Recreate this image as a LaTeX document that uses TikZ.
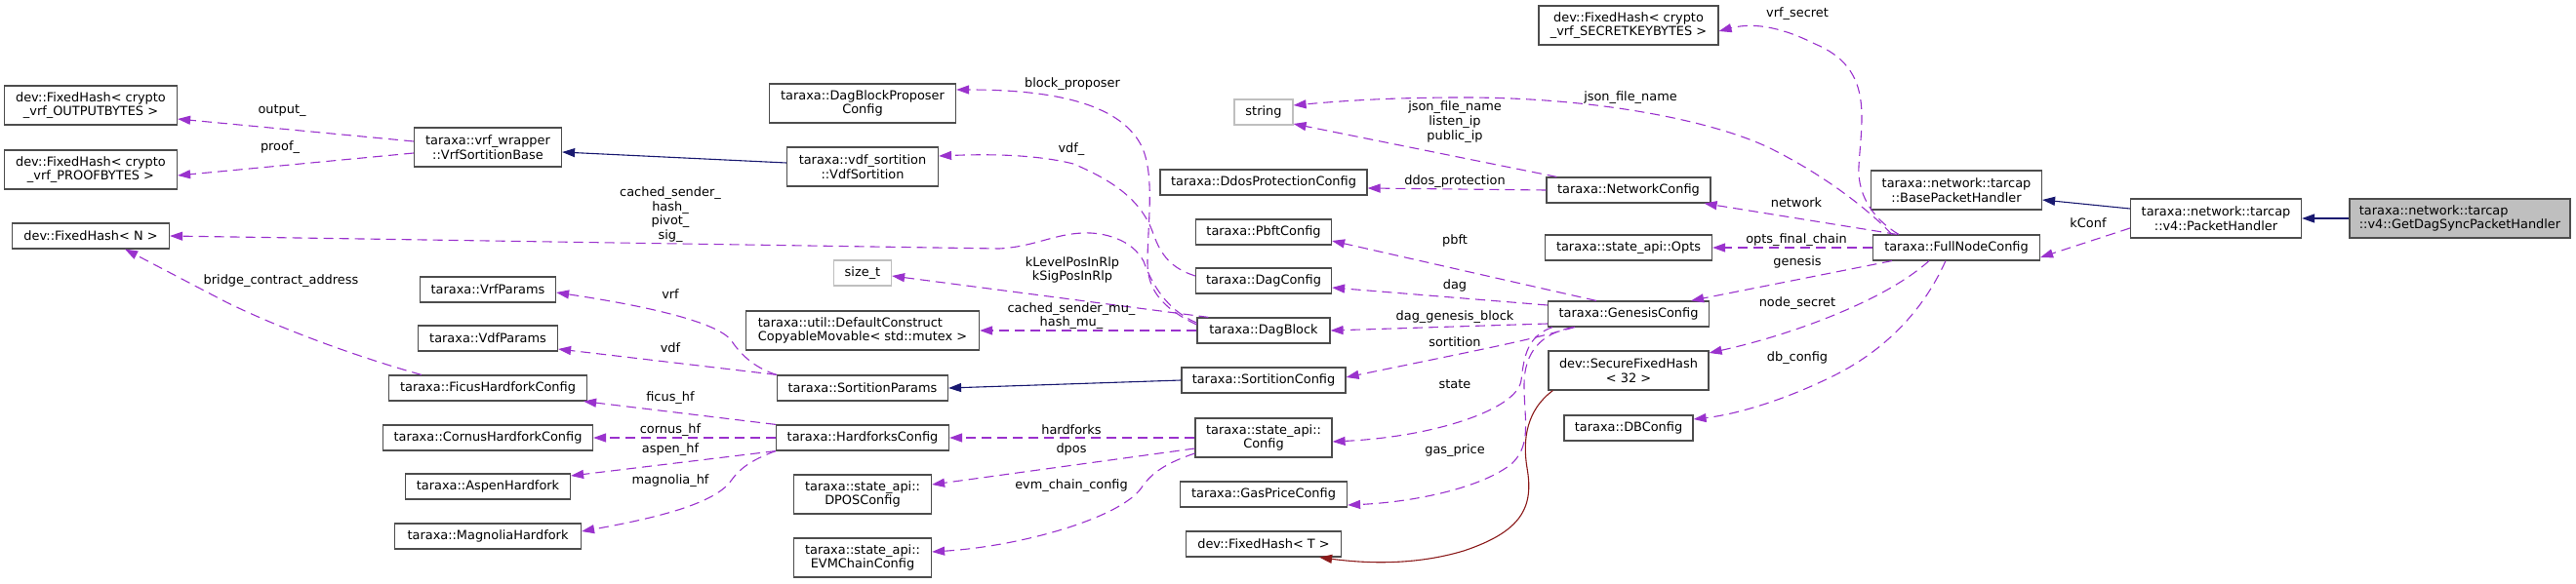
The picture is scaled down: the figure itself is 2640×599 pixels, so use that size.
\documentclass[tikz,border=0pt]{standalone}
\usepackage{fontspec}
\setmainfont{DejaVu Sans}
\usetikzlibrary{arrows.meta}
\definecolor{memberPurple}{HTML}{9A32CD}
\definecolor{inheritBlue}{HTML}{191970}
\definecolor{tmplRed}{HTML}{8B1A1A}
\definecolor{extGray}{HTML}{BFBFBF}
\definecolor{boxGray}{HTML}{4D4D4D}

\begin{document}
\begin{tikzpicture}[
    x=1pt, y=-1pt,
    font=\fontsize{12.9}{14.7}\selectfont,
    cls/.style={rectangle, draw=boxGray, line width=1.2pt, fill=white, inner sep=0pt, minimum height=26, align=center},
    cls2/.style={cls, minimum height=40},
    ext/.style={cls, draw=extGray},
    focus/.style={cls2, fill=extGray, align=left},
    member/.style={draw=memberPurple, line width=1.1pt, dash pattern=on 10pt off 6pt, -{Triangle[length=13pt, width=9pt]}, memberPurple},
    inherit/.style={draw=inheritBlue, line width=1.1pt, -{Triangle[length=13pt, width=9pt]}, inheritBlue},
    tmpl/.style={draw=tmplRed, line width=1.1pt, -{Triangle[length=13pt, width=9pt]}, tmplRed},
    lbl/.style={inner sep=0pt, align=center, text=black},
]
\useasboundingbox (0,0) rectangle (2640,599);

% Left column
\node[cls2, minimum width=177] (fhOut) at (93,108) {dev::FixedHash< crypto\\\_vrf\_OUTPUTBYTES >};
\node[cls2, minimum width=177] (fhProof) at (93,174) {dev::FixedHash< crypto\\\_vrf\_PROOFBYTES >};
\node[cls, minimum width=161] (fhN) at (93,242) {dev::FixedHash< N >};

% Second column
\node[cls2, minimum width=151] (vrfBase) at (500,151) {taraxa::vrf\_wrapper\\::VrfSortitionBase};
\node[cls, minimum width=139] (vrfParams) at (500,297) {taraxa::VrfParams};
\node[cls, minimum width=143] (vdfParams) at (500,347) {taraxa::VdfParams};
\node[cls, minimum width=203] (ficus) at (500,398) {taraxa::FicusHardforkConfig};
\node[cls, minimum width=215] (cornus) at (500,449) {taraxa::CornusHardforkConfig};
\node[cls, minimum width=169] (aspen) at (500,499) {taraxa::AspenHardfork};
\node[cls, minimum width=191] (magnolia) at (500,550) {taraxa::MagnoliaHardfork};

% Third column
\node[cls2, minimum width=191] (proposer) at (884,106) {taraxa::DagBlockProposer\\Config};
\node[cls2, minimum width=155] (vdfSort) at (884,171) {taraxa::vdf\_sortition\\::VdfSortition};
\node[ext, minimum width=59] (sizeT) at (884,280) {size\_t};
\node[cls2, minimum width=239, align=left] (mutex) at (884,339) {taraxa::util::DefaultConstruct\\CopyableMovable< std::mutex >};
\node[cls, minimum width=175] (sortParams) at (884,398) {taraxa::SortitionParams};
\node[cls, minimum width=177] (hardforks) at (884,449) {taraxa::HardforksConfig};
\node[cls2, minimum width=141] (dpos) at (884,507) {taraxa::state\_api::\\DPOSConfig};
\node[cls2, minimum width=141] (evm) at (884,572) {taraxa::state\_api::\\EVMChainConfig};

% Fourth column
\node[ext, minimum width=60] (string) at (1295,115) {string};
\node[cls, minimum width=212] (ddos) at (1295,187) {taraxa::DdosProtectionConfig};
\node[cls, minimum width=139] (pbft) at (1295,238) {taraxa::PbftConfig};
\node[cls, minimum width=139] (dagConfig) at (1295,288) {taraxa::DagConfig};
\node[cls, minimum width=136] (dagBlock) at (1295,339) {taraxa::DagBlock};
\node[cls, minimum width=168] (sortConfig) at (1295,390) {taraxa::SortitionConfig};
\node[cls2, minimum width=140] (stateConfig) at (1295,449) {taraxa::state\_api::\\Config};
\node[cls, minimum width=171] (gasPrice) at (1295,507) {taraxa::GasPriceConfig};
\node[cls, minimum width=159] (fhT) at (1295,558) {dev::FixedHash< T >};

% Fifth column
\node[cls2, minimum width=184] (fhSecret) at (1669,26) {dev::FixedHash< crypto\\\_vrf\_SECRETKEYBYTES >};
\node[cls, minimum width=168] (network) at (1669,195) {taraxa::NetworkConfig};
\node[cls, minimum width=171] (opts) at (1669,254) {taraxa::state\_api::Opts};
\node[cls, minimum width=165] (genesis) at (1669,322) {taraxa::GenesisConfig};
\node[cls2, minimum width=164] (secureHash) at (1669,380) {dev::SecureFixedHash\\< 32 >};
\node[cls, minimum width=132] (dbConfig) at (1669,439) {taraxa::DBConfig};

% Right side
\node[cls2, minimum width=175] (basePacket) at (2005,195) {taraxa::network::tarcap\\::BasePacketHandler};
\node[cls, minimum width=171] (fullNode) at (2005,254) {taraxa::FullNodeConfig};
\node[cls2, minimum width=175] (packet) at (2271,224) {taraxa::network::tarcap\\::v4::PacketHandler};
\node[focus, minimum width=226] (getDag) at (2521,224) {taraxa::network::tarcap\\::v4::GetDagSyncPacketHandler};

% Inheritance
\draw[inherit] (getDag.west) -- (packet.east);
\draw[inherit] ([yshift=10pt]packet.west) -- ([yshift=-10pt]basePacket.east);
\draw[inherit] ([yshift=4pt]vdfSort.west) -- ([yshift=-5pt]vrfBase.east);
\draw[inherit] (sortConfig.west) -- (sortParams.east);

% Template instance
\draw[tmpl] ([xshift=5pt]secureHash.south west) .. controls (1565,420) and (1560,450) .. (1565,480)
  .. controls (1572,520) and (1560,545) .. (1500,565) .. controls (1450,580) and (1400,578) .. ([xshift=-23pt]fhT.south east);

% Members of FullNodeConfig
\draw[member] ([yshift=-10pt]packet.west) -- ([yshift=-10pt]fullNode.east) node[lbl] at (2140,229) {kConf};
\draw[member] ([xshift=27pt]fullNode.north west) .. controls (1925,228) and (1903,205) .. (1905,170)
  .. controls (1908,120) and (1920,70) .. (1860,45) .. controls (1830,30) and (1800,22) .. ([yshift=-6pt]fhSecret.east)
  node[lbl] at (1842,14) {vrf\_secret};
\draw[member] ([xshift=20pt]fullNode.north west) .. controls (1915,215) and (1870,180) .. (1816,153)
  .. controls (1760,125) and (1640,100) .. (1500,100) .. controls (1420,100) and (1370,104) .. ([yshift=7pt]string.east)
  node[lbl] at (1671,100) {json\_file\_name};
\draw[member] ([xshift=25pt]fullNode.north west) -- ([xshift=-7pt]network.south east) node[lbl] at (1841,208) {network};
\draw[member] (fullNode.west) -- (opts.east) node[lbl] at (1841,246) {opts\_final\_chain};
\draw[member] ([xshift=20pt]fullNode.south west) -- ([xshift=-19pt]genesis.north east) node[lbl] at (1842,269) {genesis};
\draw[member] ([xshift=58pt]fullNode.south west) .. controls (1930,310) and (1830,345) .. ([yshift=18pt]secureHash.east)
  node[lbl] at (1842,311) {node\_secret};
\draw[member] ([xshift=75pt]fullNode.south west) .. controls (1975,310) and (1940,355) .. (1880,385)
  .. controls (1830,410) and (1780,425) .. ([yshift=9pt]dbConfig.east) node[lbl] at (1842,367) {db\_config};

% Members of NetworkConfig
\draw[member] ([xshift=11pt]network.north west) -- ([yshift=-12pt]string.east) node[lbl] at (1491,125) {json\_file\_name\\listen\_ip\\public\_ip};
\draw[member] (network.west) -- ([yshift=-6pt]ddos.east) node[lbl] at (1491,186) {ddos\_protection};

% Members of GenesisConfig
\draw[member] ([xshift=50pt]genesis.north west) -- ([yshift=-9pt]pbft.east) node[lbl] at (1491,247) {pbft};
\draw[member] ([yshift=9pt]genesis.west) -- ([yshift=-7pt]dagConfig.east) node[lbl] at (1491,293) {dag};
\draw[member] ([yshift=-10pt]genesis.west) -- (dagBlock.east) node[lbl] at (1491,325) {dag\_genesis\_block};
\draw[member] ([xshift=28pt]genesis.south west) .. controls (1560,350) .. ([yshift=3pt]sortConfig.east) node[lbl] at (1491,351) {sortition};
\draw[member] ([xshift=5pt]genesis.south west) .. controls (1565,345) and (1562,365) .. (1559,390)
  .. controls (1555,420) and (1470,448) .. ([yshift=-4pt]stateConfig.east) node[lbl] at (1491,394) {state};
\draw[member] ([xshift=26pt]genesis.south west) .. controls (1580,342) and (1562,360) .. (1562,395)
  .. controls (1562,430) and (1570,455) .. (1550,475) .. controls (1520,500) and (1450,515) .. ([yshift=-11pt]gasPrice.east)
  node[lbl] at (1491,462) {gas\_price};

% Members of DagBlock and DagConfig
\draw[member] ([yshift=8pt]dagBlock.west) .. controls (1195,318) and (1180,290) .. (1172,268)
  .. controls (1160,245) and (1130,238) .. (1110,239) .. controls (1080,240) and (1060,253) .. (1024,255) -- (fhN.east)
  node[lbl] at (687,220) {cached\_sender\_\\hash\_\\pivot\_\\sig\_};
\draw[member] ([yshift=6pt]dagBlock.west) .. controls (1195,318) and (1176,300) .. (1176,270)
  .. controls (1176,230) and (1184,180) .. (1170,150) .. controls (1150,110) and (1090,92) .. ([yshift=14pt]proposer.east)
  node[lbl] at (1099,86) {block\_proposer};
\draw[member] ([yshift=5pt]dagConfig.west) .. controls (1200,275) and (1190,262) .. (1182,240)
  .. controls (1170,205) and (1140,185) .. (1100,168) .. controls (1060,158) and (1010,158) .. ([yshift=11pt]vdfSort.east)
  node[lbl] at (1098,153) {vdf\_};
\draw[member] ([xshift=12pt]dagBlock.north west) -- ([yshift=-3pt]sizeT.east) node[lbl] at (1099,277) {kLevelPosInRlp\\kSigPosInRlp};
\draw[member] (dagBlock.west) -- (mutex.east) node[lbl] at (1098,324) {cached\_sender\_mu\_\\hash\_mu\_};

% Members of state_api::Config
\draw[member] (stateConfig.west) -- (hardforks.east) node[lbl] at (1098,441) {hardforks};
\draw[member] ([yshift=-11pt]stateConfig.west) -- ([yshift=10pt]dpos.east) node[lbl] at (1098,461) {dpos};
\draw[member] ([yshift=-16pt]stateConfig.west) .. controls (1195,475) and (1180,485) .. (1170,500)
  .. controls (1150,530) and (1050,560) .. ([yshift=6pt]evm.east) node[lbl] at (1098,498) {evm\_chain\_config};

% Members of SortitionParams and HardforksConfig
\draw[member] (sortParams.north west) .. controls (775,378) and (760,365) .. (750,350)
  .. controls (740,335) and (690,318) .. ([yshift=-3pt]vrfParams.east) node[lbl] at (687,302) {vrf};
\draw[member] (sortParams.north west) -- ([yshift=-11pt]vdfParams.east) node[lbl] at (687,357) {vdf};
\draw[member] (hardforks.north west) -- ([xshift=-4pt]ficus.south east) node[lbl] at (687,408) {ficus\_hf};
\draw[member] (hardforks.west) -- (cornus.east) node[lbl] at (687,441) {cornus\_hf};
\draw[member] (hardforks.south west) -- ([yshift=11pt]aspen.east) node[lbl] at (687,461) {aspen\_hf};
\draw[member] (hardforks.south west) .. controls (775,470) and (760,478) .. (750,492)
  .. controls (735,515) and (680,530) .. ([yshift=5pt]magnolia.east) node[lbl] at (687,493) {magnolia\_hf};
\draw[member] ([xshift=34pt]ficus.north west) .. controls (380,370) and (300,343) .. (232,310)
  -- ([xshift=-46pt]fhN.south east) node[lbl] at (288,288) {bridge\_contract\_address};

% Members of VrfSortitionBase
\draw[member] ([yshift=6pt]vrfBase.west) -- ([yshift=-14pt]fhOut.east) node[lbl] at (289,113) {output\_};
\draw[member] ([yshift=-6pt]vrfBase.west) -- ([yshift=-6pt]fhProof.east) node[lbl] at (287,151) {proof\_};
\end{tikzpicture}
\end{document}
